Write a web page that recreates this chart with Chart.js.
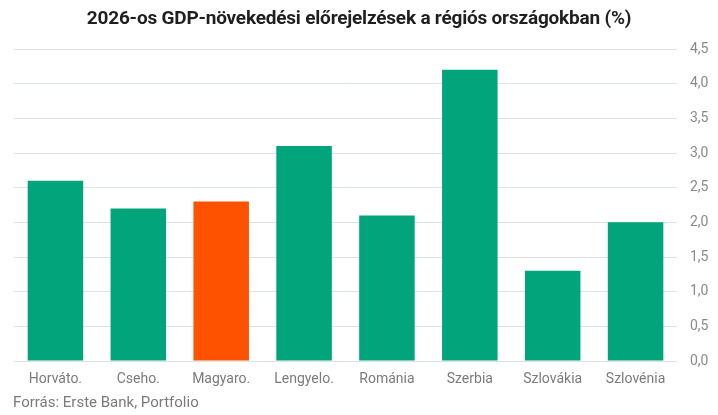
<!DOCTYPE html>
<html>
<head>
<meta charset="utf-8">
<script src="https://cdn.jsdelivr.net/npm/chart.js@4/dist/chart.umd.min.js"></script>
<style>
  body { margin: 0; background: #fff; }
  #wrap { position: relative; width: 718px; height: 415px; font-family: Roboto, sans-serif; }
  #title { position: absolute; top: 6px; left: 0; width: 718px; text-align: center;
           font-weight: bold; font-size: 19px; color: #1f1f1f; letter-spacing: -0.2px; }
  #source { position: absolute; left: 13px; top: 393px; font-size: 15px; color: #7a7a7a; }
  canvas { position: absolute; left: 0; top: 0; }
</style>
</head>
<body>
<div id="wrap">
  <canvas id="myChart" width="718" height="415"></canvas>
  <div id="title">2026-os GDP-növekedési előrejelzések a régiós országokban (%)</div>
  <div id="source">Forrás: Erste Bank, Portfolio</div>
</div>
<script>
'use strict';

var countries = ['Horváto.', 'Cseho.', 'Magyaro.', 'Lengyelo.', 'Románia', 'Szerbia', 'Szlovákia', 'Szlovénia'];
var growth = [2.6, 2.2, 2.3, 3.1, 2.1, 4.2, 1.3, 2.0];
var highlighted = 'Magyaro.';

var barColors = countries.map(function(c) {
    return c === highlighted ? '#ff5200' : '#02a57b';
});

var ctx = document.getElementById('myChart');
new Chart(ctx, {
    type: 'bar',
    data: {
        labels: countries,
        datasets: [{
            data: growth,
            backgroundColor: barColors,
            categoryPercentage: 1,
            barPercentage: 0.67
        }]
    },
    options: {
        responsive: false,
        animation: false,
        layout: { padding: { left: 14, top: 49, right: 0, bottom: 0 } },
        plugins: {
            legend: { display: false },
            tooltip: { enabled: false }
        },
        scales: {
            x: {
                grid: { display: false, drawTicks: false },
                border: { display: false },
                ticks: {
                    padding: 10,
                    color: '#7b7b7b',
                    font: { family: 'Roboto', size: 14 }
                },
                afterFit: function(scale) { scale.height = 54; }
            },
            y: {
                position: 'right',
                min: 0,
                max: 4.5,
                grid: { color: '#dde2e2', drawTicks: false },
                border: { display: false },
                ticks: {
                    stepSize: 0.5,
                    padding: 13,
                    color: '#8a8a8a',
                    font: { family: 'Roboto', size: 14 },
                    callback: function(v) { return v.toFixed(1).replace('.', ','); }
                },
                afterFit: function(scale) { scale.width = 41; }
            }
        }
    }
});
</script>
</body>
</html>
